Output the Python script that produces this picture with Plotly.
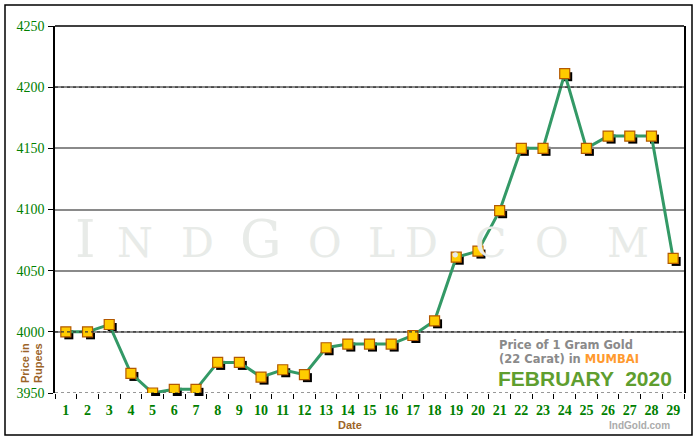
import plotly.graph_objects as go

dates = [str(d) for d in range(1, 30)]
prices = [4000, 4000, 4006, 3966, 3950, 3953, 3953, 3975, 3975, 3963,
          3969, 3965, 3987, 3990, 3990, 3990, 3997, 4009, 4061, 4066,
          4099, 4150, 4150, 4211, 4150, 4160, 4160, 4160, 4060]
y_ticks = [3950, 4000, 4050, 4100, 4150, 4200, 4250]
dotted_levels = [3950, 4000, 4200]

W, H = 700, 440
SH = 3  # shadow offset in px
L, R, T, B = 55, 16 - SH, 26, 47 - SH
pw, ph = W - L - R, H - T - B
dx, dy = SH / pw, SH / ph

fig = go.Figure()
# marker shadow: same data on an invisible, slightly shifted subplot underneath
fig.add_trace(go.Scatter(
    x=dates, y=prices, mode="markers", xaxis="x", yaxis="y",
    marker=dict(symbol="square", size=9, color="black"),
    hoverinfo="skip", showlegend=False))
fig.add_trace(go.Scatter(
    x=dates, y=prices, mode="lines+markers", xaxis="x2", yaxis="y2",
    line=dict(color="#339966", width=3),
    marker=dict(symbol="square", size=10, color="#ffcc00",
                line=dict(color="#b35900", width=1.2)),
    showlegend=False))

for lv in dotted_levels:
    fig.add_shape(type="line", xref="x2 domain", x0=0, x1=1, yref="y2", y0=lv, y1=lv,
                  line=dict(color="#333333", width=1.2, dash="dot"), layer="above")
fig.add_shape(type="line", xref="x2 domain", x0=0, x1=1, yref="y2 domain", y0=1, y1=1,
              line=dict(color="black", width=1.5), layer="above")

tickfont = dict(family="Liberation Serif", size=14, color="#008000")
fig.update_layout(
    width=W, height=H,
    margin=dict(l=L, r=R, t=T, b=B),
    paper_bgcolor="white", plot_bgcolor="rgba(0,0,0,0)",
    xaxis=dict(type="category", categoryorder="array", categoryarray=dates,
               range=[-0.5, len(dates) - 0.5],
               domain=[dx, 1], visible=False, anchor="y", showgrid=False),
    yaxis=dict(range=[y_ticks[0], y_ticks[-1]],
               domain=[0, 1 - dy], visible=False, anchor="x", showgrid=False),
    xaxis2=dict(type="category", categoryorder="array", categoryarray=dates,
                range=[-0.5, len(dates) - 0.5], tickson="boundaries",
                domain=[0, 1 - dx], anchor="y2", tickangle=0,
                ticks="outside", ticklen=5, tickcolor="black", tickwidth=1.2,
                ticklabelstandoff=7,
                showgrid=False, showline=False,
                tickfont=tickfont, tickprefix="<b>", ticksuffix="</b>",
                zeroline=False),
    yaxis2=dict(range=[y_ticks[0], y_ticks[-1]], tickvals=y_ticks,
                domain=[dy, 1], anchor="x2",
                ticks="outside", ticklen=5, tickcolor="black", tickwidth=1.2,
                ticklabelstandoff=1,
                showgrid=True, gridcolor="#8a8a8a", gridwidth=2,
                showline=True, mirror=True, linecolor="black", linewidth=1.5,
                tickfont=tickfont, tickprefix="<b>", ticksuffix="</b>",
                zeroline=False),
)

def px(x):
    return (x - L) / pw

def py(y):
    return 1 - (y - T) / ph

def note(text, x, y, size, color, family="Liberation Sans", xanchor="center",
         angle=0):
    fig.add_annotation(xref="paper", yref="paper", x=px(x), y=py(y),
                       xanchor=xanchor, yanchor="middle", text=text,
                       textangle=angle, showarrow=False,
                       font=dict(family=family, size=size, color=color))

# outer frame
fig.add_shape(type="rect", xref="paper", yref="paper",
              x0=px(5), x1=px(692), y0=py(435), y1=py(5),
              line=dict(color="black", width=1.5), layer="below")

# watermark (small caps, widely spaced)
wm_letters = [("I", 85, 1), ("N", 135, 0), ("D", 197, 0), ("G", 261, 1),
              ("O", 325, 0), ("L", 381, 0), ("D", 421, 0), (".", 455, 0),
              ("C", 490, 0), ("O", 552, 0), ("M", 628, 0)]
for ch, xc, big in wm_letters:
    note(ch, xc, 239 if big else 243, 52 if big else 41, "#e8ebe8",
         family="DejaVu Serif")

brown = "#9c6428"
note("<b>Price in</b>", 25, 363, 11, brown, angle=-90)
note("<b>Rupees</b>", 38, 363, 11, brown, angle=-90)
note("<b>Date</b>", 350, 425, 11, brown)

note("<b>Price of 1 Gram Gold</b>", 497, 345, 11.5, "#8a8a8a",
     family="DejaVu Sans", xanchor="left")
note("<b>(22 Carat) in <span style='color:#ff9a2e'>MUMBAI</span></b>",
     497, 359, 11.5, "#8a8a8a", family="DejaVu Sans", xanchor="left")
note("<b>FEBRUARY  2020</b>", 496, 378, 21, "#5f9e2f", xanchor="left")
note("<b>IndGold.com</b>", 639, 425, 10, "#ababab")

fig.write_html("out.html", config={"displayModeBar": False},
               post_script="document.body.style.margin='0';")
